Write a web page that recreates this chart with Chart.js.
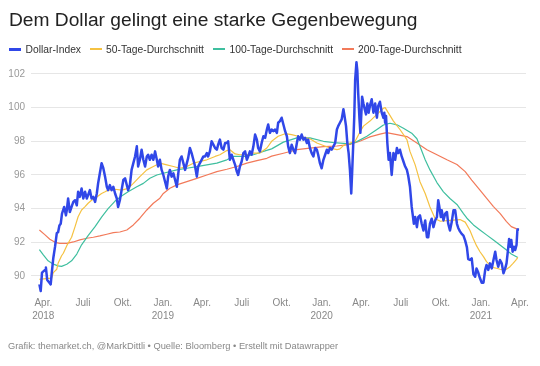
<!DOCTYPE html>
<html>
<head>
<meta charset="utf-8">
<script src="https://cdn.jsdelivr.net/npm/chart.js@4"></script>
<style>
  body { margin: 0; background: #fff; font-family: "Liberation Sans", Arial, sans-serif; }
  #wrap { position: relative; width: 540px; height: 366px; overflow: hidden; }
  #chart { position: absolute; left: 0; top: 0; }
  .title { position: absolute; left: 9px; top: 10.3px; font-size: 19.2px; line-height: 19px; color: #222; white-space: nowrap; }
  .item { position: absolute; top: 43.8px; font-size: 10.3px; line-height: 11px; color: #333; white-space: nowrap; }
  .item i { position: absolute; left: -16.5px; top: 4.5px; width: 12px; height: 2px; }
  .footer { position: absolute; left: 8px; top: 341px; font-size: 9.3px; line-height: 11px; color: #888; white-space: nowrap; }
</style>
</head>
<body>
<div id="wrap">
  <canvas id="chart" width="540" height="366"></canvas>
  <div class="title">Dem Dollar gelingt eine starke Gegenbewegung</div>
  <div id="legend"></div>
  <div class="footer">Grafik: themarket.ch, @MarkDittli • Quelle: Bloomberg • Erstellt mit Datawrapper</div>
</div>
<script>
// days counted from 1 April 2018
const tickDays = [0, 91, 183, 275, 365, 456, 548, 640, 731, 822, 914, 1006, 1096]
const tickLabels = [['Apr.', '2018'], 'Juli', 'Okt.', ['Jan.', '2019'], 'Apr.', 'Juli', 'Okt.',
  ['Jan.', '2020'], 'Apr.', 'Juli', 'Okt.', ['Jan.', '2021'], 'Apr.']
const yTicks = [90, 92, 94, 96, 98, 100, 102]

const seriesNames = ['Dollar-Index', '50-Tage-Durchschnitt', '100-Tage-Durchschnitt', '200-Tage-Durchschnitt']
const seriesColors = ['#3047e8', '#f5c242', '#3fbf9f', '#f27a5a']

// [day, value]
const dollarIndex = [
  [-9,89.5],[-6,89.1],[-3,90.2],[4,90.36],[6,90.5],[9,89.76],[14,89.6],[17,89.5],[19,90.06],[23,91.07],
  [27,91.74],[31,92.55],[34,92.6],[37,93.0],[40,93.1],[43,93.7],[48,94.1],[52,93.6],[54,93.9],[57,94.6],
  [61,93.8],[65,94.1],[69,94.4],[73,94.5],[77,94.2],[80,95.0],[84,94.7],[88,95.2],[92,94.6],[96,95.0],
  [100,94.6],[103,94.8],[107,95.1],[111,94.6],[115,94.7],[119,94.4],[123,94.9],[126,95.5],[130,96.1],[134,96.7],
  [138,96.4],[142,95.9],[146,95.3],[149,95.1],[153,95.4],[157,95.1],[161,95.3],[165,94.9],[169,94.6],[172,94.1],
  [176,94.5],[180,95.1],[184,95.7],[188,95.8],[192,95.4],[195,95.1],[199,95.4],[203,96.3],[207,96.7],[211,97.1],
  [215,97.7],[218,96.5],[222,96.9],[226,97.5],[230,96.9],[234,96.5],[238,97.1],[241,97.2],[245,96.9],[249,97.2],
  [253,96.9],[257,97.4],[261,96.9],[264,96.5],[268,96.9],[272,96.3],[276,96.0],[280,95.6],[284,95.2],[287,95.9],
  [291,96.3],[295,95.9],[299,96.1],[303,95.7],[307,95.3],[310,96.0],[314,96.9],[318,97.1],[322,96.7],[326,96.3],
  [330,96.7],[333,97.0],[337,97.6],[341,97.3],[345,96.9],[349,96.5],[353,95.9],[356,96.5],[360,96.7],[364,96.9],
  [368,97.1],[372,97.1],[376,97.3],[379,97.1],[383,97.4],[387,98.0],[391,97.8],[395,97.6],[399,97.5],[402,97.8],
  [406,98.1],[410,97.6],[414,97.5],[418,97.9],[422,97.9],[425,98.0],[429,96.9],[433,97.2],[437,96.9],[441,96.6],
  [445,96.2],[448,96.0],[452,96.5],[456,96.8],[460,97.3],[464,97.4],[468,96.9],[471,97.1],[475,97.4],[479,97.2],
  [483,97.7],[487,98.4],[491,98.1],[494,97.6],[498,97.4],[502,97.9],[506,98.3],[510,98.2],[514,98.7],[517,99.0],
  [521,98.5],[525,98.7],[529,98.6],[533,98.7],[537,98.5],[540,99.1],[544,99.2],[548,99.4],[552,99.0],[556,98.6],
  [560,98.3],[563,97.7],[567,97.3],[571,97.8],[575,97.5],[579,97.3],[583,97.9],[586,98.3],[590,98.1],[594,98.4],
  [598,98.1],[602,98.2],[606,97.9],[609,98.1],[613,97.6],[617,97.3],[621,97.1],[625,97.6],[629,97.5],[632,97.2],
  [636,96.7],[640,96.4],[644,96.9],[648,97.2],[652,97.5],[655,97.3],[659,97.6],[663,97.5],[667,97.7],[671,97.9],
  [675,98.7],[678,98.9],[682,99.1],[686,99.3],[690,99.9],[692,99.6],[696,98.9],[699,97.9],[702,97.3],[705,96.3],
  [708,94.9],[710,96.1],[713,98.1],[715,99.5],[717,101.65],[720,102.7],[722,102.2],[724,100.85],[727,99.3],[729,98.5],
  [731,99.5],[733,100.65],[736,100.25],[739,99.9],[742,99.6],[745,100.25],[748,99.7],[751,100.1],[755,100.5],[759,99.7],
  [763,100.25],[767,99.4],[770,100.1],[774,100.35],[778,99.7],[782,99.4],[784,99.7],[786,99.1],[788,99.5],[791,97.9],
  [794,96.9],[797,97.3],[801,96.0],[805,97.3],[809,96.9],[813,97.6],[816,97.3],[820,97.5],[824,97.1],[828,96.8],
  [832,96.5],[836,96.3],[839,95.95],[843,95.3],[847,94.1],[849,93.7],[852,93.1],[855,93.5],[859,92.9],[862,93.5],
  [866,93.6],[870,93.1],[874,92.7],[878,93.3],[882,92.3],[885,92.3],[889,93.1],[893,93.4],[897,92.9],[901,93.3],
  [905,93.5],[908,94.5],[910,94.2],[914,93.5],[916,93.9],[920,93.3],[924,93.7],[928,93.8],[931,93.1],[935,92.7],
  [939,93.2],[943,93.9],[947,93.9],[951,93.1],[954,92.85],[958,92.65],[962,92.5],[966,92.4],[970,92.1],[974,91.7],
  [977,91.0],[981,90.95],[985,91.05],[989,90.1],[993,89.96],[996,90.45],[1000,90.2],[1004,89.86],[1008,89.6],[1012,89.6],
  [1016,90.36],[1019,90.65],[1023,90.36],[1027,90.75],[1031,90.45],[1035,90.95],[1039,91.44],[1042,90.95],[1046,90.55],[1050,90.95],
  [1054,90.75],[1058,90.16],[1062,90.45],[1065,90.75],[1068,91.44],[1071,92.2],[1074,91.74],[1076,92.14],[1079,91.44],[1082,91.74],
  [1085,91.54],[1088,91.84],[1090,92.73],[1091,92.83]
]

const ma50 = [
  [-9,89.8],[11,89.86],[19,89.86],[23,90.2],[31,90.4],[34,90.75],[42,91.2],[46,91.35],[54,91.8],[57,91.94],
  [65,92.3],[73,92.93],[80,93.52],[88,93.92],[96,94.12],[103,94.32],[111,94.5],[119,94.6],[126,94.75],[134,94.9],
  [142,95.0],[149,95.1],[165,95.15],[180,95.1],[195,95.2],[207,95.5],[222,95.9],[238,96.3],[253,96.5],[268,96.7],
  [284,96.6],[299,96.5],[314,96.4],[330,96.5],[345,96.7],[360,96.8],[376,96.9],[395,97.1],[406,97.2],[422,97.45],
  [429,97.5],[441,97.25],[452,97.2],[468,97.2],[483,97.3],[498,97.3],[514,97.6],[525,98.0],[540,98.3],[556,98.45],
  [571,98.4],[586,98.3],[598,98.25],[613,98.15],[629,97.9],[644,97.75],[659,97.6],[675,97.5],[682,97.55],[690,97.75],
  [705,97.9],[717,98.0],[729,98.6],[736,98.9],[751,99.2],[767,99.6],[782,99.96],[786,100.0],[793,99.7],[805,99.2],
  [820,98.7],[836,98.1],[843,97.4],[855,96.6],[866,95.6],[878,94.9],[889,94.1],[901,93.4],[913,93.25],[935,93.3],
  [958,93.35],[970,93.2],[981,92.7],[989,92.2],[996,91.8],[1004,91.44],[1012,91.15],[1019,90.85],[1027,90.65],[1035,90.5],
  [1042,90.46],[1050,90.4],[1058,90.36],[1065,90.4],[1073,90.55],[1080,90.75],[1088,90.99],[1091,91.1]
]

const ma100 = [
  [-9,91.57],[0,91.25],[11,90.9],[23,90.7],[34,90.6],[42,90.57],[54,90.7],[65,90.9],[77,91.3],[88,91.85],
  [103,92.4],[119,92.93],[134,93.5],[149,94.0],[165,94.45],[180,94.75],[195,95.0],[215,95.3],[230,95.5],[245,95.8],
  [261,96.0],[276,96.1],[291,96.2],[307,96.3],[330,96.4],[353,96.5],[376,96.6],[399,96.7],[422,96.9],[437,97.1],
  [464,97.1],[483,97.2],[506,97.4],[525,97.55],[552,97.95],[583,98.2],[613,98.2],[644,98.0],[675,97.9],[705,97.85],
  [721,97.98],[744,98.3],[767,98.7],[782,98.97],[797,99.07],[813,98.98],[828,98.78],[847,98.48],[859,98.15],[866,97.7],
  [878,96.9],[889,96.3],[905,95.55],[920,95.0],[935,94.6],[951,94.25],[966,93.7],[974,93.43],[989,93.03],[1004,92.73],
  [1019,92.44],[1035,92.14],[1050,91.84],[1065,91.54],[1076,91.31],[1091,91.1]
]

const ma200 = [
  [-9,92.73],[4,92.44],[15,92.18],[27,92.0],[38,91.94],[54,91.94],[69,92.02],[84,92.14],[100,92.24],[115,92.3],
  [130,92.38],[146,92.48],[161,92.57],[176,92.61],[192,92.73],[207,93.03],[222,93.43],[238,93.92],[253,94.32],[268,94.62],
  [276,94.9],[291,95.21],[307,95.41],[330,95.6],[353,95.8],[376,96.0],[399,96.2],[422,96.34],[445,96.5],[468,96.7],
  [491,96.85],[514,96.99],[525,97.12],[552,97.29],[583,97.5],[613,97.59],[644,97.68],[675,97.72],[705,97.82],[729,98.02],
  [751,98.26],[774,98.43],[789,98.51],[813,98.4],[836,98.28],[859,97.9],[882,97.5],[905,97.2],[928,96.9],[951,96.62],
  [970,96.2],[985,95.7],[1004,95.1],[1019,94.62],[1035,94.12],[1050,93.72],[1065,93.23],[1076,92.93],[1091,92.77]
]

// legend (html)
const legendLeft = [25.5, 106, 229.5, 358]
const legend = document.getElementById('legend')
seriesNames.forEach((name, i) => {
  const el = document.createElement('div')
  el.className = 'item'
  el.style.left = legendLeft[i] + 'px'
  el.innerHTML = '<i style="background:' + seriesColors[i] + (i === 0 ? ';height:3px;top:4px' : '') + '"></i>' + name
  legend.appendChild(el)
})

const toPoints = arr => arr.map(p => ({ x: p[0], y: p[1] }))
const allSeries = [dollarIndex, ma50, ma100, ma200]

const datasets = allSeries.map((arr, i) => ({
  label: seriesNames[i],
  data: toPoints(arr),
  borderColor: seriesColors[i],
  borderWidth: i === 0 ? 2.5 : 1.2,
  pointRadius: 0,
  tension: 0,
  borderJoinStyle: 'round',
  fill: false
}))

const ctx = document.getElementById('chart').getContext('2d')
new Chart(ctx, {
  type: 'line',
  data: { datasets },
  options: {
    responsive: false,
    animation: false,
    devicePixelRatio: 1,
    layout: { padding: { top: 58.8, right: 14, bottom: 43.2, left: 0 } },
    plugins: { legend: { display: false }, tooltip: { enabled: false } },
    scales: {
      x: {
        type: 'linear',
        min: -28.3,
        max: 1109.8,
        afterBuildTicks: scale => { scale.ticks = tickDays.map(v => ({ value: v })) },
        afterFit: scale => { scale.height = 30 },
        grid: { display: false, drawTicks: false },
        border: { display: false },
        ticks: {
          autoSkip: false,
          maxRotation: 0,
          padding: 4,
          color: '#888',
          font: { family: '"Liberation Sans", Arial, sans-serif', size: 10, lineHeight: 1.3 },
          callback: (v, i) => tickLabels[i]
        }
      },
      y: {
        min: 89,
        max: 102.9,
        afterBuildTicks: scale => { scale.ticks = yTicks.map(v => ({ value: v })) },
        afterFit: scale => { scale.width = 31 },
        grid: { color: '#e6e6e6', lineWidth: 1, drawTicks: false },
        border: { display: false },
        ticks: {
          padding: 6,
          color: '#999',
          font: { family: '"Liberation Sans", Arial, sans-serif', size: 10 }
        }
      }
    }
  }
})
</script>
</body>
</html>
